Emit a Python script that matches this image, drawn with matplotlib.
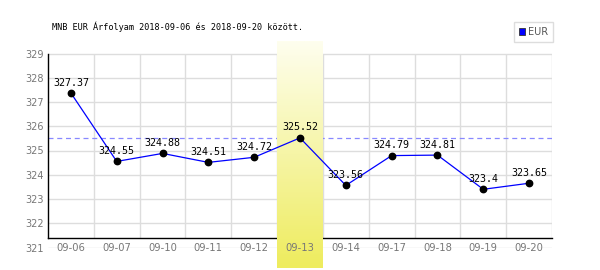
import numpy as np
import matplotlib.pyplot as plt
from matplotlib.colors import LinearSegmentedColormap
from matplotlib.patches import Patch

dates = ['09-06', '09-07', '09-10', '09-11', '09-12', '09-13',
         '09-14', '09-17', '09-18', '09-19', '09-20']
rates = [327.37, 324.55, 324.88, 324.51, 324.72, 325.52,
         323.56, 324.79, 324.81, 323.4, 323.65]
highlight = 5  # 09-13
yticks = [321, 322, 323, 324, 325, 326, 327, 328, 329]
title = "MNB EUR Árfolyam 2018-09-06 és 2018-09-20 között."

grey = '#dddddd'
tick_col = '#777777'

fig = plt.figure(figsize=(6, 2.7), dpi=100)
ax = fig.add_axes([48 / 600, 22.5 / 270, 504 / 600, 194 / 270])
x = np.arange(len(dates))
axis_y = 321.39

# grid drawn by hand so the highlight band can sit over it
ax.hlines(yticks, -0.5, len(dates) - 0.5, color=grey, lw=1, zorder=0.5)
ax.vlines(x + 0.5, axis_y, yticks[-1], color=grey, lw=1, zorder=0.5)

# reference line at the highlighted day's rate
ax.axhline(rates[highlight], color='#8888ff', lw=0.9, ls=(0, (4, 3)), zorder=0.8)

# yellow gradient band behind the highlighted day
cmap = LinearSegmentedColormap.from_list('band', ['#fefeee', '#eeec5e'])
grad = np.linspace(0, 1, 100).reshape(-1, 1)
im = ax.imshow(grad, cmap=cmap, aspect='auto', origin='upper',
               extent=(highlight - 0.5, highlight + 0.5, 320.15, 329.48),
               zorder=1, interpolation='bilinear')
im.set_clip_on(False)
im.set_clip_box(fig.bbox)
ax.set_xlim(-0.5, len(dates) - 0.5)
ax.set_ylim(yticks[0], yticks[-1])

ax.plot(x, rates, color='#0000ff', lw=0.9, zorder=3)
ax.plot(x, rates, 'o', color='black', ms=4.6, zorder=4)
for xi, v in zip(x, rates):
    ax.annotate(f"{v:g}", (xi, v), xytext=(0, 7.5), textcoords='offset points',
                ha='center', va='center', fontsize=7.2,
                family='DejaVu Sans Mono', color='black', zorder=5)

for s in ['top', 'right']:
    ax.spines[s].set_visible(False)
ax.spines['bottom'].set_position(('data', axis_y))
ax.spines['left'].set_bounds(axis_y, yticks[-1])
for s in ['bottom', 'left']:
    ax.spines[s].set_color('black')
    ax.spines[s].set_linewidth(1)
    ax.spines[s].set_zorder(0.9)

ax.set_xticks(x)
ax.set_xticklabels(dates)
ax.set_yticks(yticks)
ax.tick_params(axis='x', length=0, pad=3.5, labelsize=7.2, labelcolor=tick_col)
ax.tick_params(axis='y', length=0, pad=3, labelsize=7, labelcolor=tick_col)
ax.patch.set_alpha(0)

fig.text(52 / 600, 1 - 27 / 270, title, fontsize=6.1, family='DejaVu Sans Mono',
         va='center', ha='left')

fig.legend(handles=[Patch(facecolor='#0000ff', edgecolor='#333333', lw=0.6, label='EUR')],
           loc='upper right', bbox_to_anchor=(553 / 600, 1 - 22 / 270),
           borderaxespad=0, fancybox=False, edgecolor=grey, framealpha=1,
           handlelength=0.6, handleheight=0.6, handletextpad=0.3,
           borderpad=0.5, fontsize=7, labelcolor='#555555')

fig.savefig('out.png', dpi=100)
